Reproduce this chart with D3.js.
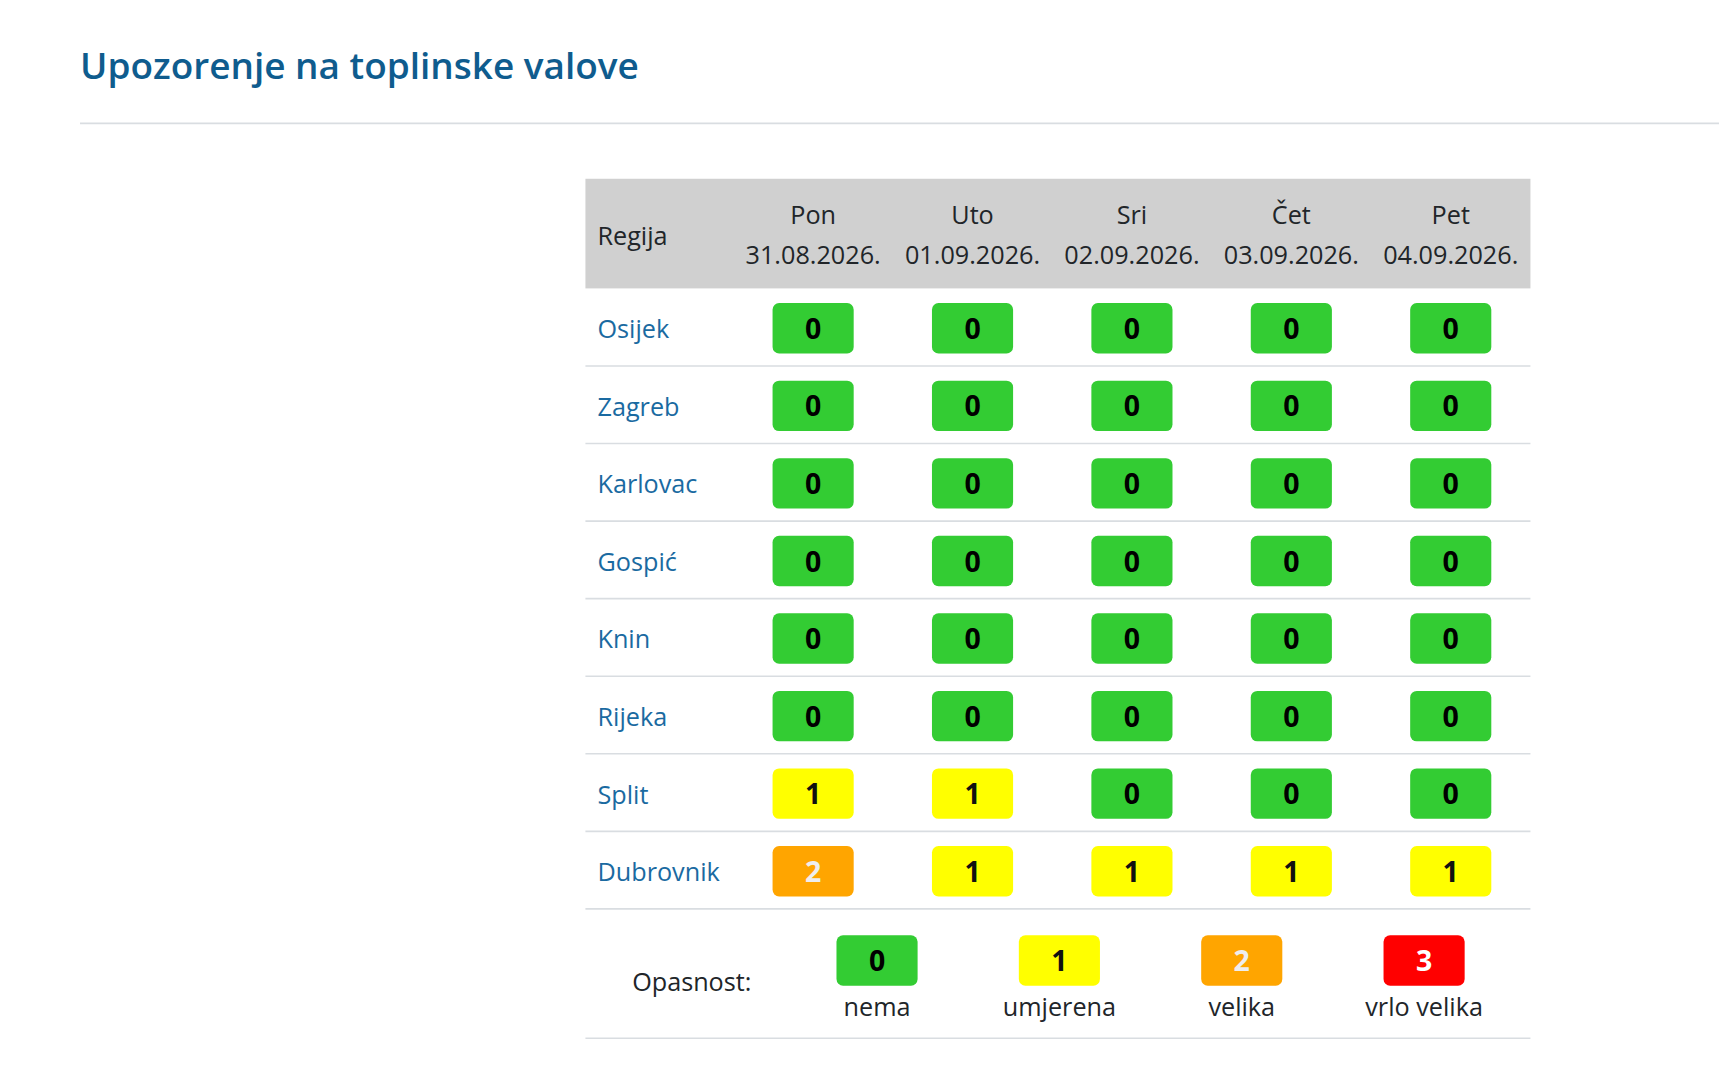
<!DOCTYPE html>
<html>
<head>
<meta charset="utf-8">
<script src="https://cdn.jsdelivr.net/npm/d3@7"></script>
<style>
  html, body { margin: 0; padding: 0; background: #fff; }
  svg { display: block; font-family: "Open Sans", "Noto Sans", sans-serif; }
</style>
</head>
<body>
<div id="chart"></div>
<script>
// heat wave warnings per region and day
const days = ["Pon", "Uto", "Sri", "Čet", "Pet"];
const dates = ["31.08.2026.", "01.09.2026.", "02.09.2026.", "03.09.2026.", "04.09.2026."];
const regions = ["Osijek", "Zagreb", "Karlovac", "Gospić", "Knin", "Rijeka", "Split", "Dubrovnik"];
const osijek    = [0, 0, 0, 0, 0];
const zagreb    = [0, 0, 0, 0, 0];
const karlovac  = [0, 0, 0, 0, 0];
const gospic    = [0, 0, 0, 0, 0];
const knin      = [0, 0, 0, 0, 0];
const rijeka    = [0, 0, 0, 0, 0];
const split     = [1, 1, 0, 0, 0];
const dubrovnik = [2, 1, 1, 1, 1];
const levels = [0, 1, 2, 3];
const levelNames = ["nema", "umjerena", "velika", "vrlo velika"];
const levelColors = ["#33cc33", "#ffff00", "#ffa500", "#ff0000"];
const levelText = ["#000", "#111", "#eeeeee", "#ffffff"];

const warnings = [osijek, zagreb, karlovac, gospic, knin, rijeka, split, dubrovnik];

// drawn in the reference's own pixel grid, scaled to the window
const W = 1568, H = 985;
const svg = d3.select("#chart").append("svg")
    .attr("width", 1719)
    .attr("height", 1080)
    .attr("viewBox", `0 0 ${W} ${H}`);

const fs = "23px";

// title
svg.append("text")
    .attr("x", 73)
    .attr("y", 72)
    .style("font-size", "33.7px")
    .style("font-weight", 600)
    .style("fill", "#0f5c8e")
    .text("Upozorenje na toplinske valove");

svg.append("line")
    .attr("x1", 73).attr("x2", W)
    .attr("y1", 112.5).attr("y2", 112.5)
    .attr("stroke", "#d9dde1")
    .attr("stroke-width", 1.5);

const table = { left: 534, right: 1396, top: 163, head: 100, rowsBottom: 829, bottom: 947 };
const regijaWidth = 135;

const x = d3.scaleBand()
    .domain(days)
    .range([table.left + regijaWidth, table.right]);

const y = d3.scaleBand()
    .domain(regions)
    .range([table.top + table.head, table.rowsBottom]);

const color = d3.scaleOrdinal().domain(levels).range(levelColors);
const textColor = d3.scaleOrdinal().domain(levels).range(levelText);

const badgeW = 74, badgeH = 46;

// header
svg.append("rect")
    .attr("x", table.left)
    .attr("y", table.top)
    .attr("width", table.right - table.left)
    .attr("height", table.head)
    .attr("fill", "#d0d0d0");

svg.append("text")
    .attr("x", table.left + 11)
    .attr("y", table.top + table.head / 2 + 2)
    .attr("dy", "0.35em")
    .style("font-size", fs)
    .style("fill", "#212529")
    .text("Regija");

const head = svg.selectAll(".head")
    .data(days)
    .enter().append("g")
    .attr("class", "head")
    .attr("transform", d => `translate(${x(d) + x.bandwidth() / 2},${table.top})`);

head.append("text")
    .attr("text-anchor", "middle")
    .attr("y", 33)
    .attr("dy", "0.35em")
    .style("font-size", fs)
    .style("fill", "#212529")
    .text(d => d);

head.append("text")
    .attr("text-anchor", "middle")
    .attr("y", 70)
    .attr("dy", "0.35em")
    .style("font-size", fs)
    .style("fill", "#212529")
    .text((d, i) => dates[i]);

// rows
const row = svg.selectAll(".row")
    .data(regions)
    .enter().append("g")
    .attr("class", "row")
    .attr("transform", d => `translate(0,${y(d)})`);

row.append("line")
    .attr("x1", table.left).attr("x2", table.right)
    .attr("y1", y.bandwidth()).attr("y2", y.bandwidth())
    .attr("stroke", "#d9dde1")
    .attr("stroke-width", 1.5);

row.append("text")
    .attr("x", table.left + 11)
    .attr("y", y.bandwidth() / 2 + 2)
    .attr("dy", "0.35em")
    .style("font-size", fs)
    .style("fill", "#1a6aa1")
    .text(d => d);

const cell = row.selectAll(".cell")
    .data((d, i) => warnings[i].map((v, j) => ({ day: days[j], value: v })))
    .enter().append("g")
    .attr("class", "cell")
    .attr("transform", d => `translate(${x(d.day) + x.bandwidth() / 2},${y.bandwidth() / 2 + 1})`);

cell.append("rect")
    .attr("x", -badgeW / 2)
    .attr("y", -badgeH / 2)
    .attr("width", badgeW)
    .attr("height", badgeH)
    .attr("rx", 6)
    .attr("fill", d => color(d.value));

cell.append("text")
    .attr("text-anchor", "middle")
    .attr("dy", "0.37em")
    .style("font-size", "26px")
    .style("font-weight", 700)
    .style("fill", d => textColor(d.value))
    .text(d => d.value);

// legend
const legendX = d3.scalePoint()
    .domain(levels)
    .range([800, 1299]);

svg.append("text")
    .attr("x", 631)
    .attr("y", 896)
    .attr("dy", "0.35em")
    .attr("text-anchor", "middle")
    .style("font-size", fs)
    .style("fill", "#212529")
    .text("Opasnost:");

const item = svg.selectAll(".legend")
    .data(levels)
    .enter().append("g")
    .attr("class", "legend")
    .attr("transform", d => `translate(${legendX(d)},876)`);

item.append("rect")
    .attr("x", -badgeW / 2)
    .attr("y", -badgeH / 2)
    .attr("width", badgeW)
    .attr("height", badgeH)
    .attr("rx", 6)
    .attr("fill", d => color(d));

item.append("text")
    .attr("text-anchor", "middle")
    .attr("dy", "0.37em")
    .style("font-size", "26px")
    .style("font-weight", 700)
    .style("fill", d => textColor(d))
    .text(d => d);

item.append("text")
    .attr("text-anchor", "middle")
    .attr("y", 43)
    .attr("dy", "0.35em")
    .style("font-size", fs)
    .style("fill", "#212529")
    .text((d, i) => levelNames[i]);

svg.append("line")
    .attr("x1", table.left).attr("x2", table.right)
    .attr("y1", table.bottom).attr("y2", table.bottom)
    .attr("stroke", "#d9dde1")
    .attr("stroke-width", 1.5);
</script>
</body>
</html>
